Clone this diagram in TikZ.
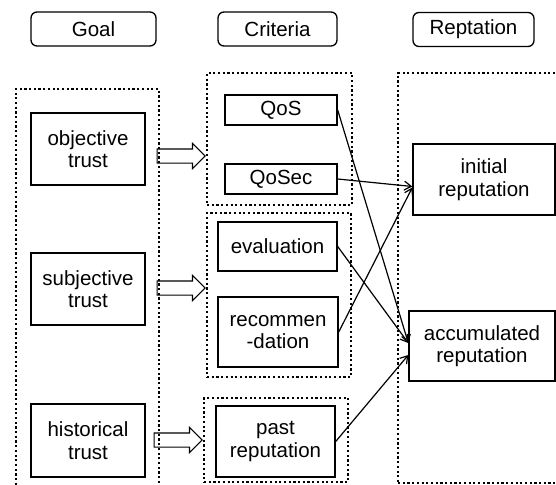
\documentclass[tikz,border=0pt]{standalone}
\usepackage{fontspec}
\setmainfont{Liberation Sans}
\usetikzlibrary{shapes.arrows,arrows.meta}

\begin{document}
\begin{tikzpicture}[x=1pt, y=-1pt,
    every node/.style={font=\fontsize{20.5}{22.5}\selectfont, align=center, inner sep=0pt},
    headbox/.style={draw, line width=1.3pt, rounded corners=6pt, minimum height=34pt},
    grpbox/.style={draw, dash pattern=on 2.2pt off 2.5pt, line width=2.3pt},
    itembox/.style={draw, line width=1.4pt},
    fatarr/.style={draw, line width=1.1pt, single arrow, minimum height=48pt, minimum width=24pt,
        single arrow head extend=5.5pt, inner sep=6.5pt},
    link/.style={line width=1.2pt, -{Straight Barb[length=7pt, width=9pt]}}]
    \clip (0,0) rectangle (556,484);
    \node[headbox, minimum width=125pt] (goalh) at (93.5,29) {Goal};
    \node[headbox, minimum width=119pt] (crith) at (277.5,29) {Criteria};
    \node[headbox, minimum width=121pt] (reph) at (473.5,29.5) {Reptation};
    \node[grpbox, minimum width=143pt, minimum height=406pt] (goalgrp) at (87.5,292) {};
    \node[grpbox, minimum width=145pt, minimum height=132pt] (critA) at (279.5,139) {};
    \node[grpbox, minimum width=144pt, minimum height=164pt] (critB) at (279,295) {};
    \node[grpbox, minimum width=144pt, minimum height=84pt] (critC) at (276,440) {};
    \node[grpbox, minimum width=172pt, minimum height=410pt] (repgrp) at (484,278) {};
    \node[itembox, minimum width=114pt, minimum height=72pt] (obj) at (88,149) {objective\\trust};
    \node[itembox, minimum width=114pt, minimum height=72pt] (subj) at (88,289) {subjective\\trust};
    \node[itembox, minimum width=114pt, minimum height=73pt] (hist) at (88,440.5) {historical\\trust};
    \node[itembox, minimum width=112pt, minimum height=30pt] (qos) at (281,110) {QoS};
    \node[itembox, minimum width=112pt, minimum height=30pt] (qosec) at (281,179) {QoSec};
    \node[itembox, minimum width=119pt, minimum height=49pt] (eval) at (277.5,246.5) {evaluation};
    \node[itembox, minimum width=120pt, minimum height=70pt] (recom) at (278,332) {recommen\\-dation};
    \node[itembox, minimum width=119pt, minimum height=71pt] (past) at (275.5,441.5) {past\\reputation};
    \node[itembox, minimum width=142pt, minimum height=71pt] (init) at (484,179.5) {initial\\reputation};
    \node[itembox, minimum width=146pt, minimum height=70pt] (accum) at (482,346) {accumulated\\reputation};
    \node[fatarr, anchor=tip] (ar1) at (critA.west |- 0,156) {};
    \node[fatarr, anchor=tip] (ar2) at (critB.west |- 0,288) {};
    \node[fatarr, anchor=tip] (ar3) at (critC.west |- 0,440) {};
    \draw[link] (qos.east) -- ([yshift=3pt]accum.west);
    \draw[link] (eval.east) -- ([yshift=3pt]accum.west);
    \draw[link] (past.east) -- ([yshift=-9pt]accum.west);
    \draw[link] (qosec.east) -- ([yshift=-7pt]init.west);
    \draw[link] (recom.east) -- ([yshift=-8pt]init.west);
\end{tikzpicture}
\end{document}
